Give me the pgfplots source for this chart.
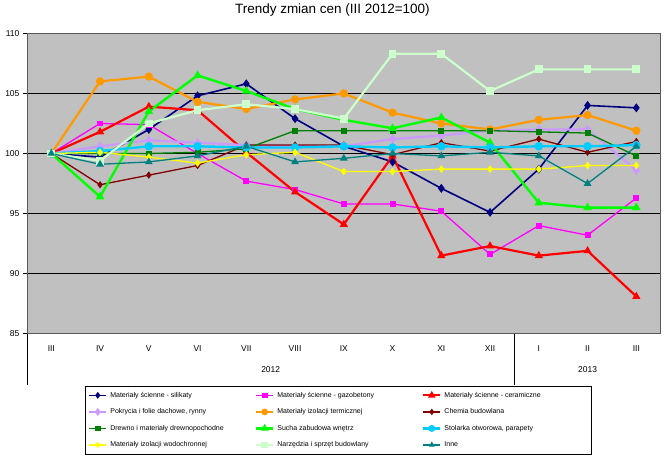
\documentclass[border=0pt]{standalone}
\usepackage{pgfplots}
\pgfplotsset{compat=1.18}
\usepackage{fontspec}
\setmainfont{Liberation Sans}
\definecolor{plotgray}{HTML}{C0C0C0}
\definecolor{cNavy}{HTML}{000080}
\definecolor{cMag}{HTML}{FF00FF}
\definecolor{cRed}{HTML}{FF0000}
\definecolor{cLav}{HTML}{CC99FF}
\definecolor{cOrange}{HTML}{FF9900}
\definecolor{cMaroon}{HTML}{800000}
\definecolor{cDGreen}{HTML}{008000}
\definecolor{cLime}{HTML}{00FF00}
\definecolor{cCyan}{HTML}{00CCFF}
\definecolor{cYellow}{HTML}{FFFF00}
\definecolor{cPale}{HTML}{CCFFCC}
\definecolor{cTeal}{HTML}{008080}
\begin{document}
\begin{tikzpicture}
\begin{axis}[
  scale only axis, width=635bp, height=301bp,
  xmin=-0.5, xmax=12.5, ymin=85, ymax=110,
  clip=false,
  axis background/.style={fill=plotgray},
  axis line style={draw=gray!70!black, line width=0.6bp},
  ytick={85,90,...,110},
  ymajorgrids, major grid style={black, line width=0.8bp},
  tick pos=left, tick align=outside,
  major tick length=4bp,
  y tick style={black, line width=0.6bp},
  xtick={0,...,12},
  xticklabels={III,IV,V,VI,VII,VIII,IX,X,XI,XII,I,II,III},
  x tick style={draw=none},
  extra x ticks={-0.5,0.5,...,12.5},
  extra x tick labels={},
  extra x tick style={major tick length=24bp, tick style={draw=black, line width=0.8bp}},
  ticklabel style={font=\fontsize{8.5bp}{10bp}\selectfont},
  xticklabel style={yshift=-4.5bp},
  /pgf/number format/assume math mode=true,
  title={Trendy zmian cen (III 2012=100)},
  title style={font=\fontsize{13.5bp}{15bp}\selectfont, at={(0.482,1)}, anchor=south, yshift=8bp},
  legend columns=3,
  legend cell align=left,
  legend image post style={mark size=2.2bp},
  legend style={at={(0.0913,0)}, anchor=north west, yshift=-52bp,
    draw=black, line width=0.8bp, fill=white,
    font=\fontsize{7bp}{8bp}\selectfont, row sep=6bp, column sep=1bp,
    inner xsep=3bp, inner ysep=4bp},
]
\addplot[cNavy, line width=1.6bp, mark=diamond*, mark size=3.2bp, mark options={solid, fill=cNavy}] coordinates {
(0,100) (1,99.7) (2,102.0) (3,104.8) (4,105.8) (5,102.9) (6,100.6) (7,99.3) (8,97.1) (9,95.1) (10,98.7) (11,104.0) (12,103.8)};
\addlegendentry{\makebox[142bp][l]{Materiały ścienne - silikaty}}
\addplot[cMag, line width=1.3bp, mark=square*, mark size=2.3bp, mark options={solid, fill=cMag}] coordinates {
(0,100) (1,102.5) (2,102.4) (3,100.0) (4,97.7) (5,97.0) (6,95.8) (7,95.8) (8,95.2) (9,91.6) (10,94.0) (11,93.2) (12,96.3)};
\addlegendentry{\makebox[142bp][l]{Materiały ścienne - gazobetony}}
\addplot[cRed, line width=2.2bp, mark=triangle*, mark size=2.6bp, mark options={solid, fill=cRed}] coordinates {
(0,100) (1,101.8) (2,103.9) (3,103.6) (4,100.1) (5,96.8) (6,94.1) (7,99.8) (8,91.5) (9,92.3) (10,91.5) (11,91.9) (12,88.1)};
\addlegendentry{\makebox[142bp][l]{Materiały ścienne - ceramiczne}}
\addplot[cLav, line width=2.2bp, mark=diamond*, mark size=3bp, mark options={solid, fill=cLav}] coordinates {
(0,100) (1,100.6) (2,101.1) (3,100.9) (4,100.7) (5,100.6) (6,100.6) (7,101.2) (8,101.5) (9,101.9) (10,102.0) (11,102.0) (12,98.6)};
\addlegendentry{\makebox[142bp][l]{Pokrycia i folie dachowe, rynny}}
\addplot[cOrange, line width=2.2bp, mark=*, mark size=3bp, mark options={solid, fill=cOrange}] coordinates {
(0,100) (1,106.0) (2,106.4) (3,104.3) (4,103.7) (5,104.5) (6,105.0) (7,103.4) (8,102.5) (9,102.0) (10,102.8) (11,103.2) (12,101.9)};
\addlegendentry{\makebox[142bp][l]{Materiały izolacji termicznej}}
\addplot[cMaroon, line width=1.3bp, mark=diamond*, mark size=2.6bp, mark options={solid, fill=cMaroon}] coordinates {
(0,100) (1,97.4) (2,98.2) (3,99.0) (4,100.7) (5,100.7) (6,100.7) (7,99.9) (8,100.9) (9,100.2) (10,101.2) (11,100.1) (12,101.0)};
\addlegendentry{\makebox[142bp][l]{Chemia budowlana}}
\addplot[cDGreen, line width=1.3bp, mark=square*, mark size=2.3bp, mark options={solid, fill=cDGreen}] coordinates {
(0,100) (1,100.0) (2,100.0) (3,100.1) (4,100.4) (5,101.9) (6,101.9) (7,101.9) (8,101.9) (9,101.9) (10,101.8) (11,101.7) (12,99.8)};
\addlegendentry{\makebox[142bp][l]{Drewno i materiały drewnopochodne}}
\addplot[cLime, line width=2.4bp, mark=triangle*, mark size=2.6bp, mark options={solid, fill=cLime}] coordinates {
(0,100) (1,96.4) (2,103.5) (3,106.5) (4,105.2) (5,103.7) (6,102.8) (7,102.1) (8,103.0) (9,100.9) (10,95.9) (11,95.5) (12,95.5)};
\addlegendentry{\makebox[142bp][l]{Sucha zabudowa wnętrz}}
\addplot[cCyan, line width=2.4bp, mark=*, mark size=3bp, mark options={solid, fill=cCyan}] coordinates {
(0,100) (1,100.2) (2,100.6) (3,100.6) (4,100.5) (5,100.5) (6,100.6) (7,100.5) (8,100.6) (9,100.5) (10,100.6) (11,100.6) (12,100.7)};
\addlegendentry{\makebox[142bp][l]{Stolarka otworowa, parapety}}
\addplot[cYellow, line width=1.3bp, mark=diamond*, mark size=2.8bp, mark options={solid, fill=cYellow}] coordinates {
(0,100) (1,100.1) (2,99.7) (3,99.2) (4,99.9) (5,100.1) (6,98.5) (7,98.5) (8,98.7) (9,98.7) (10,98.7) (11,99.0) (12,99.0)};
\addlegendentry{\makebox[142bp][l]{Materiały izolacji wodochronnej}}
\addplot[cPale, line width=2.2bp, mark=square*, mark size=2.8bp, mark options={solid, fill=cPale}] coordinates {
(0,100) (1,99.4) (2,102.5) (3,103.6) (4,104.1) (5,103.7) (6,102.9) (7,108.3) (8,108.3) (9,105.2) (10,107.0) (11,107.0) (12,107.0)};
\addlegendentry{\makebox[142bp][l]{Narzędzia i sprzęt budowlany}}
\addplot[cTeal, line width=1.3bp, mark=triangle*, mark size=3.2bp, mark options={solid, fill=cTeal}] coordinates {
(0,100) (1,99.1) (2,99.3) (3,99.8) (4,100.6) (5,99.3) (6,99.6) (7,100.0) (8,99.8) (9,100.1) (10,99.8) (11,97.5) (12,100.6)};
\addlegendentry{\makebox[142bp][l]{Inne}}
\draw[black, line width=0.8bp] (axis cs:-0.5,85) -- ([yshift=-51bp]axis cs:-0.5,85);
\draw[black, line width=0.8bp] (axis cs:9.5,85) -- ([yshift=-51bp]axis cs:9.5,85);
\node[font=\fontsize{8.5bp}{10bp}\selectfont] at ([yshift=-36bp]axis cs:4.5,85) {2012};
\node[font=\fontsize{8.5bp}{10bp}\selectfont] at ([yshift=-36bp]axis cs:11,85) {2013};
\path[draw=none] (rel axis cs:-0.0425,-0.4385) rectangle (rel axis cs:1.0035,1.0997);
\end{axis}
\end{tikzpicture}
\end{document}
